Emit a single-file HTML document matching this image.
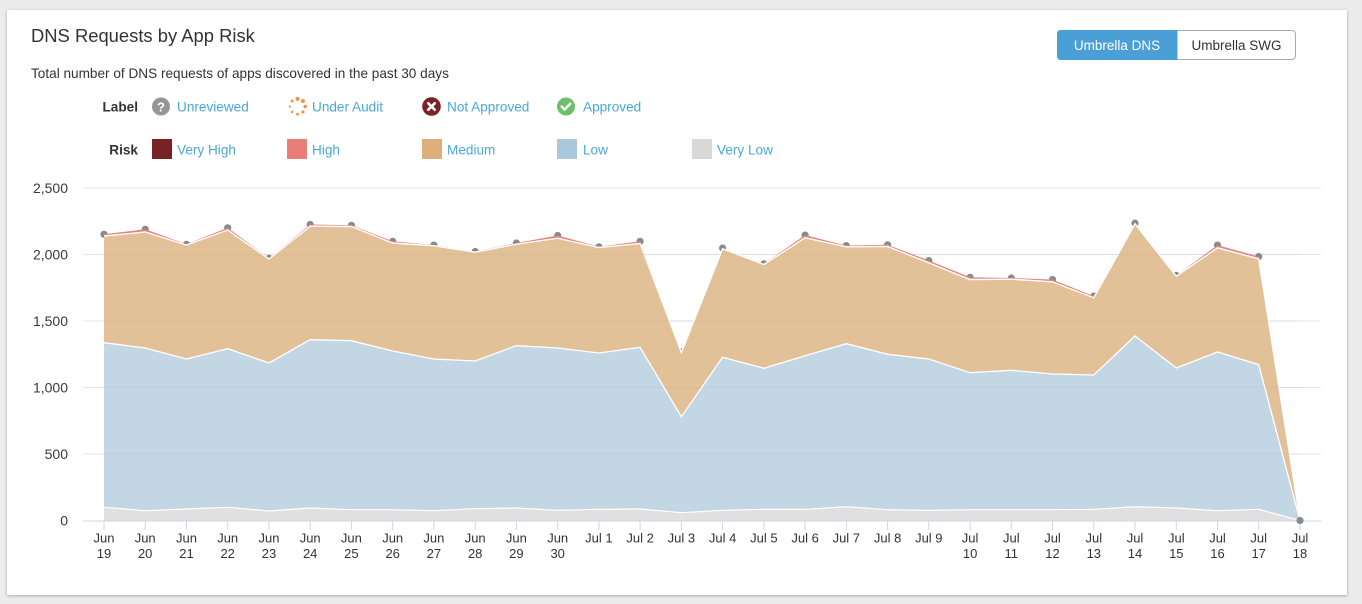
<!DOCTYPE html>
<html>
<head>
<meta charset="utf-8">
<style>
  html, body { margin: 0; padding: 0; }
  body { width: 1362px; height: 604px; background: #ececec; position: relative; overflow: hidden;
         font-family: "Liberation Sans", Arial, sans-serif; }
  .card { position: absolute; left: 7px; top: 10px; width: 1340px; height: 585px; background: #fff;
          box-shadow: 0 1px 3px rgba(0,0,0,0.28); }
  svg { position: absolute; left: 0; top: 0; }
  text { font-family: "Liberation Sans", Arial, sans-serif; }
</style>
</head>
<body>
<div class="card"></div>
<svg width="1362" height="604" viewBox="0 0 1362 604" xmlns="http://www.w3.org/2000/svg">
  <!-- Title and subtitle -->
  <text x="31" y="42.2" font-size="18.4" fill="#333">DNS Requests by App Risk</text>
  <text x="31" y="78" font-size="13.6" fill="#333">Total number of DNS requests of apps discovered in the past 30 days</text>

  <!-- Toggle buttons -->
  <path d="M1177,30.5 H1291.5 Q1295.5,30.5 1295.5,34.5 V55.5 Q1295.5,59.5 1291.5,59.5 H1177 Z" fill="#fff" stroke="#ababab" stroke-width="1"/>
  <path d="M1061,30 H1177.5 V60 H1061 Q1057,60 1057,56 V34 Q1057,30 1061,30 Z" fill="#4a9fd6"/>
  <text x="1117" y="50" font-size="13.5" fill="#fff" text-anchor="middle">Umbrella DNS</text>
  <text x="1236.5" y="50" font-size="13.5" fill="#333" text-anchor="middle">Umbrella SWG</text>

  <!-- Legend: Label row -->
  <text x="138" y="111.5" font-size="13.6" font-weight="bold" fill="#333" text-anchor="end">Label</text>
  <circle cx="161" cy="106.5" r="9" fill="#969696"/>
  <text x="161" y="111.3" font-size="13" font-weight="bold" fill="#fff" text-anchor="middle">?</text>
  <text x="177" y="111.5" font-size="13.6" fill="#4aa7dc">Unreviewed</text>

  <g fill="#f7913f">
    <circle cx="297.5" cy="98.8" r="2.1"/>
    <circle cx="302.9" cy="101" r="2"/>
    <circle cx="305.2" cy="106.5" r="1.8"/>
    <circle cx="302.9" cy="112" r="1.6"/>
    <circle cx="297.5" cy="114.2" r="1.4"/>
    <circle cx="292.1" cy="112" r="1.2"/>
    <circle cx="289.8" cy="106.5" r="1.1"/>
    <circle cx="292.1" cy="101" r="1.5"/>
  </g>
  <text x="312" y="111.5" font-size="13.6" fill="#4aa7dc">Under Audit</text>

  <circle cx="431.5" cy="106.5" r="9.3" fill="#7b2228"/>
  <path d="M428.3,103.3 L434.7,109.7 M434.7,103.3 L428.3,109.7" stroke="#fff" stroke-width="2.6" stroke-linecap="round"/>
  <text x="447" y="111.5" font-size="13.6" fill="#4aa7dc">Not Approved</text>

  <circle cx="566" cy="106.5" r="9" fill="#6cbf6b"/>
  <polyline points="561.7,106.6 564.6,109.5 570.3,103.6" fill="none" stroke="#fff" stroke-width="2.5" stroke-linecap="round" stroke-linejoin="round"/>
  <text x="583" y="111.5" font-size="13.6" fill="#4aa7dc">Approved</text>

  <!-- Legend: Risk row -->
  <text x="138" y="154.3" font-size="13.6" font-weight="bold" fill="#333" text-anchor="end">Risk</text>
  <rect x="152" y="139" width="20" height="20" fill="#782127"/>
  <text x="177" y="154.3" font-size="13.6" fill="#4aa7dc">Very High</text>
  <rect x="287" y="139" width="20" height="20" fill="#e97e78"/>
  <text x="312" y="154.3" font-size="13.6" fill="#4aa7dc">High</text>
  <rect x="422" y="139" width="20" height="20" fill="#dcaf7d"/>
  <text x="447" y="154.3" font-size="13.6" fill="#4aa7dc">Medium</text>
  <rect x="557" y="139" width="20" height="20" fill="#aac8dc"/>
  <text x="583" y="154.3" font-size="13.6" fill="#4aa7dc">Low</text>
  <rect x="692" y="139" width="20" height="20" fill="#d8d8d8"/>
  <text x="717" y="154.3" font-size="13.6" fill="#4aa7dc">Very Low</text>

  <!-- Gridlines -->
  <g stroke="#e6e6e6" stroke-width="1">
    <line x1="83" y1="188" x2="1321" y2="188"/>
    <line x1="83" y1="254.5" x2="1321" y2="254.5"/>
    <line x1="83" y1="321" x2="1321" y2="321"/>
    <line x1="83" y1="387.5" x2="1321" y2="387.5"/>
    <line x1="83" y1="454" x2="1321" y2="454"/>
  </g>

  <!-- Y labels -->
  <g font-size="14" fill="#3a3a3a" text-anchor="end">
    <text x="68" y="193">2,500</text>
    <text x="68" y="259.5">2,000</text>
    <text x="68" y="326">1,500</text>
    <text x="68" y="392.5">1,000</text>
    <text x="68" y="459">500</text>
    <text x="68" y="525.5">0</text>
  </g>

  <!-- Markers (behind areas) -->
  <g fill="#8a8a8a">
    <circle cx="104" cy="234.3" r="3.6"/>
    <circle cx="145.2" cy="229.3" r="3.6"/>
    <circle cx="186.5" cy="244.3" r="3.6"/>
    <circle cx="227.7" cy="227.8" r="3.6"/>
    <circle cx="269" cy="258.3" r="3.6"/>
    <circle cx="310.2" cy="224.5" r="3.6"/>
    <circle cx="351.4" cy="225.3" r="3.6"/>
    <circle cx="392.7" cy="241.3" r="3.6"/>
    <circle cx="433.9" cy="245.1" r="3.6"/>
    <circle cx="475.2" cy="251.5" r="3.6"/>
    <circle cx="516.4" cy="243" r="3.6"/>
    <circle cx="557.7" cy="235.5" r="3.6"/>
    <circle cx="598.9" cy="246.8" r="3.6"/>
    <circle cx="640.1" cy="241.3" r="3.6"/>
    <circle cx="681.4" cy="351.8" r="3.6"/>
    <circle cx="722.6" cy="248.1" r="3.6"/>
    <circle cx="763.9" cy="263.8" r="3.6"/>
    <circle cx="805.1" cy="235.1" r="3.6"/>
    <circle cx="846.3" cy="245.6" r="3.6"/>
    <circle cx="887.6" cy="244.8" r="3.6"/>
    <circle cx="928.8" cy="260.6" r="3.6"/>
    <circle cx="970.1" cy="277.3" r="3.6"/>
    <circle cx="1011.3" cy="278" r="3.6"/>
    <circle cx="1052.5" cy="279.6" r="3.6"/>
    <circle cx="1093.8" cy="296.1" r="3.6"/>
    <circle cx="1135" cy="223.1" r="3.6"/>
    <circle cx="1176.3" cy="275.5" r="3.6"/>
    <circle cx="1217.5" cy="245.1" r="3.6"/>
    <circle cx="1258.7" cy="256.6" r="3.6"/>
  </g>

  <!-- High (red) area -->
  <polygon fill="#e8807b" points="104,520.5 104,234.3 145.2,229.3 186.5,244.3 227.7,227.8 269,258.3 310.2,224.5 351.4,225.3 392.7,241.3 433.9,245.1 475.2,251.5 516.4,243 557.7,235.5 598.9,246.8 640.1,241.3 681.4,351.8 722.6,248.1 763.9,263.8 805.1,235.1 846.3,245.6 887.6,244.8 928.8,260.6 970.1,277.3 1011.3,278 1052.5,279.6 1093.8,296.1 1135,223.1 1176.3,275.5 1217.5,245.1 1258.7,256.6 1300,520.5"/>

  <!-- Medium area -->
  <polygon fill="#e2c199" points="104,520.5 104,236.5 145.2,232.5 186.5,245.5 227.7,230.5 269,259.5 310.2,226.7 351.4,227 392.7,243.5 433.9,246.3 475.2,252.7 516.4,244.7 557.7,238.7 598.9,248 640.1,244 681.4,353 722.6,249.3 763.9,265 805.1,238.3 846.3,247.3 887.6,247 928.8,263.3 970.1,280 1011.3,279.7 1052.5,282.3 1093.8,298.3 1135,224.3 1176.3,276.7 1217.5,248.3 1258.7,259.3 1300,520.5"/>
  <polyline fill="none" stroke="#fff" stroke-width="1.4" points="104,236 145.2,232 186.5,245 227.7,230 269,259 310.2,226.2 351.4,226.5 392.7,243 433.9,245.8 475.2,252.2 516.4,244.2 557.7,238.2 598.9,247.5 640.1,243.5 681.4,352.5 722.6,248.8 763.9,264.5 805.1,237.8 846.3,246.8 887.6,246.5 928.8,262.8 970.1,279.5 1011.3,279.2 1052.5,281.8 1093.8,297.8 1135,223.8 1176.3,276.2 1217.5,247.8 1258.7,258.8 1300,520"/>

  <!-- Low area -->
  <polygon fill="#c3d6e3" points="104,520.5 104,342.7 145.2,348 186.5,359 227.7,348.7 269,363 310.2,339.7 351.4,340.7 392.7,351 433.9,359 475.2,361 516.4,345.7 557.7,348 598.9,353 640.1,347.3 681.4,416.7 722.6,357.3 763.9,368.3 805.1,355.7 846.3,343.7 887.6,354.3 928.8,359 970.1,372.7 1011.3,370.3 1052.5,374 1093.8,375 1135,336 1176.3,368 1217.5,352 1258.7,364.7 1300,520.5"/>
  <polyline fill="none" stroke="#fff" stroke-width="1.3" points="104,342.7 145.2,348 186.5,359 227.7,348.7 269,363 310.2,339.7 351.4,340.7 392.7,351 433.9,359 475.2,361 516.4,345.7 557.7,348 598.9,353 640.1,347.3 681.4,416.7 722.6,357.3 763.9,368.3 805.1,355.7 846.3,343.7 887.6,354.3 928.8,359 970.1,372.7 1011.3,370.3 1052.5,374 1093.8,375 1135,336 1176.3,368 1217.5,352 1258.7,364.7 1300,520.5"/>

  <!-- Very low area -->
  <polygon fill="#e0e0e0" points="104,520.5 104,507.3 145.2,510.7 186.5,509 227.7,507.3 269,511 310.2,508 351.4,509.7 392.7,509.7 433.9,510.7 475.2,508.7 516.4,508 557.7,510.3 598.9,509.3 640.1,509 681.4,512.7 722.6,510.3 763.9,509.3 805.1,509.3 846.3,506.7 887.6,509.7 928.8,510.3 970.1,509.7 1011.3,509.7 1052.5,509.7 1093.8,509.3 1135,506.7 1176.3,508 1217.5,510.7 1258.7,509.3 1300,520.5"/>
  <polyline fill="none" stroke="#fff" stroke-width="1.2" points="104,507.3 145.2,510.7 186.5,509 227.7,507.3 269,511 310.2,508 351.4,509.7 392.7,509.7 433.9,510.7 475.2,508.7 516.4,508 557.7,510.3 598.9,509.3 640.1,509 681.4,512.7 722.6,510.3 763.9,509.3 805.1,509.3 846.3,506.7 887.6,509.7 928.8,510.3 970.1,509.7 1011.3,509.7 1052.5,509.7 1093.8,509.3 1135,506.7 1176.3,508 1217.5,510.7 1258.7,509.3 1300,520.5"/>

  <!-- faint gridlines through areas -->
  <g stroke="rgba(0,0,0,0.035)" stroke-width="1">
    <line x1="104" y1="254.5" x2="1300" y2="254.5"/>
    <line x1="104" y1="321" x2="1300" y2="321"/>
    <line x1="104" y1="387.5" x2="1300" y2="387.5"/>
    <line x1="104" y1="454" x2="1300" y2="454"/>
  </g>

  <!-- X axis -->
  <line x1="83" y1="521" x2="1321" y2="521" stroke="#ccd6eb" stroke-width="1"/>
  <g stroke="#ccd6eb" stroke-width="1">
    <line x1="104" y1="521" x2="104" y2="530"/>
    <line x1="145.2" y1="521" x2="145.2" y2="530"/>
    <line x1="186.5" y1="521" x2="186.5" y2="530"/>
    <line x1="227.7" y1="521" x2="227.7" y2="530"/>
    <line x1="269" y1="521" x2="269" y2="530"/>
    <line x1="310.2" y1="521" x2="310.2" y2="530"/>
    <line x1="351.4" y1="521" x2="351.4" y2="530"/>
    <line x1="392.7" y1="521" x2="392.7" y2="530"/>
    <line x1="433.9" y1="521" x2="433.9" y2="530"/>
    <line x1="475.2" y1="521" x2="475.2" y2="530"/>
    <line x1="516.4" y1="521" x2="516.4" y2="530"/>
    <line x1="557.7" y1="521" x2="557.7" y2="530"/>
    <line x1="598.9" y1="521" x2="598.9" y2="530"/>
    <line x1="640.1" y1="521" x2="640.1" y2="530"/>
    <line x1="681.4" y1="521" x2="681.4" y2="530"/>
    <line x1="722.6" y1="521" x2="722.6" y2="530"/>
    <line x1="763.9" y1="521" x2="763.9" y2="530"/>
    <line x1="805.1" y1="521" x2="805.1" y2="530"/>
    <line x1="846.3" y1="521" x2="846.3" y2="530"/>
    <line x1="887.6" y1="521" x2="887.6" y2="530"/>
    <line x1="928.8" y1="521" x2="928.8" y2="530"/>
    <line x1="970.1" y1="521" x2="970.1" y2="530"/>
    <line x1="1011.3" y1="521" x2="1011.3" y2="530"/>
    <line x1="1052.5" y1="521" x2="1052.5" y2="530"/>
    <line x1="1093.8" y1="521" x2="1093.8" y2="530"/>
    <line x1="1135" y1="521" x2="1135" y2="530"/>
    <line x1="1176.3" y1="521" x2="1176.3" y2="530"/>
    <line x1="1217.5" y1="521" x2="1217.5" y2="530"/>
    <line x1="1258.7" y1="521" x2="1258.7" y2="530"/>
    <line x1="1300" y1="521" x2="1300" y2="530"/>
  </g>
  <!-- Jul 18 marker -->
  <circle cx="1300" cy="520.5" r="3.6" fill="#8a8a8a"/>

  <!-- X labels -->
  <g font-size="13" fill="#333" text-anchor="middle">
    <text x="104" y="542.5">Jun</text><text x="104" y="558">19</text>
    <text x="145.2" y="542.5">Jun</text><text x="145.2" y="558">20</text>
    <text x="186.5" y="542.5">Jun</text><text x="186.5" y="558">21</text>
    <text x="227.7" y="542.5">Jun</text><text x="227.7" y="558">22</text>
    <text x="269" y="542.5">Jun</text><text x="269" y="558">23</text>
    <text x="310.2" y="542.5">Jun</text><text x="310.2" y="558">24</text>
    <text x="351.4" y="542.5">Jun</text><text x="351.4" y="558">25</text>
    <text x="392.7" y="542.5">Jun</text><text x="392.7" y="558">26</text>
    <text x="433.9" y="542.5">Jun</text><text x="433.9" y="558">27</text>
    <text x="475.2" y="542.5">Jun</text><text x="475.2" y="558">28</text>
    <text x="516.4" y="542.5">Jun</text><text x="516.4" y="558">29</text>
    <text x="557.7" y="542.5">Jun</text><text x="557.7" y="558">30</text>
    <text x="598.9" y="542.5">Jul 1</text>
    <text x="640.1" y="542.5">Jul 2</text>
    <text x="681.4" y="542.5">Jul 3</text>
    <text x="722.6" y="542.5">Jul 4</text>
    <text x="763.9" y="542.5">Jul 5</text>
    <text x="805.1" y="542.5">Jul 6</text>
    <text x="846.3" y="542.5">Jul 7</text>
    <text x="887.6" y="542.5">Jul 8</text>
    <text x="928.8" y="542.5">Jul 9</text>
    <text x="970.1" y="542.5">Jul</text><text x="970.1" y="558">10</text>
    <text x="1011.3" y="542.5">Jul</text><text x="1011.3" y="558">11</text>
    <text x="1052.5" y="542.5">Jul</text><text x="1052.5" y="558">12</text>
    <text x="1093.8" y="542.5">Jul</text><text x="1093.8" y="558">13</text>
    <text x="1135" y="542.5">Jul</text><text x="1135" y="558">14</text>
    <text x="1176.3" y="542.5">Jul</text><text x="1176.3" y="558">15</text>
    <text x="1217.5" y="542.5">Jul</text><text x="1217.5" y="558">16</text>
    <text x="1258.7" y="542.5">Jul</text><text x="1258.7" y="558">17</text>
    <text x="1300" y="542.5">Jul</text><text x="1300" y="558">18</text>
  </g>
</svg>
</body>
</html>
